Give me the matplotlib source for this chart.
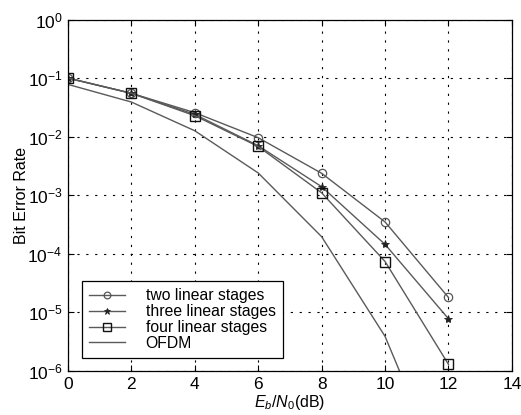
import matplotlib
matplotlib.use("Agg")
import matplotlib.pyplot as plt
import numpy as np
from matplotlib.ticker import FixedLocator, NullLocator

plt.rcParams['font.family'] = ['Liberation Sans', 'DejaVu Sans']
plt.rcParams['mathtext.fontset'] = 'custom'
plt.rcParams['mathtext.rm'] = 'Liberation Sans'
plt.rcParams['mathtext.it'] = 'Liberation Sans:italic'

ebn0 = [0, 2, 4, 6, 8, 10, 12]
ber_two = [0.10, 0.055, 0.0257, 0.0096, 0.00237, 3.5e-4, 1.8e-5]
ber_three = [0.10, 0.055, 0.024, 0.0070, 0.0014, 1.45e-4, 7.8e-6]
ber_four = [0.10, 0.055, 0.0228, 0.0068, 0.0011, 7.4e-5, 1.3e-6]
ber_ofdm = [0.078, 0.039, 0.0126, 0.0024, 1.96e-4, 3.9e-6, 1.0e-8]

labels = ['two linear stages', 'three linear stages', 'four linear stages', 'OFDM']
x_ticks = [0, 2, 4, 6, 8, 10, 12, 14]
y_ticks = [1e-6, 1e-5, 1e-4, 1e-3, 1e-2, 1e-1, 1e0]

fig = plt.figure(figsize=(5.21, 4.15), dpi=100)
ax = fig.add_axes([0.1305, 0.106, 0.852, 0.847])

lc = '#5a5a5a'
ax.plot(ebn0, ber_two, color=lc, lw=1.0, marker='o', ms=6, mfc='none', mec='#555555', mew=0.9, label=labels[0])
ax.plot(ebn0, ber_three, color=lc, lw=1.0, marker='*', ms=6, mfc='#222222', mec='#222222', mew=0.6, label=labels[1])
ax.plot(ebn0, ber_four, color=lc, lw=1.0, marker='s', ms=7, mfc='none', mec='#111111', mew=1.0, label=labels[2])
ax.plot(ebn0, ber_ofdm, color=lc, lw=1.0, label=labels[3])

ax.set_yscale('log')
ax.set_xlim(0, 14)
ax.set_ylim(1e-6, 1)
ax.xaxis.set_major_locator(FixedLocator(x_ticks))
ax.yaxis.set_major_locator(FixedLocator(y_ticks))
ax.yaxis.set_minor_locator(NullLocator())

ax.grid(True, which='major', color='black', linestyle=(0, (2, 6)), lw=0.8)
ax.tick_params(direction='in', length=4, labelsize=12.5, top=True, right=True, pad=4)
for s in ax.spines.values():
    s.set_linewidth(0.9)

ax.set_xlabel('$E_b/N_0$(dB)', fontsize=11.5, labelpad=1)
ax.set_ylabel('Bit Error Rate', fontsize=11.5, labelpad=-1)

leg = ax.legend(loc='lower left', bbox_to_anchor=(0.014, 0.015), fontsize=11.3,
                frameon=True, fancybox=False, edgecolor='black', framealpha=1,
                handlelength=2.3, borderpad=0.45, labelspacing=0.05, handletextpad=1.3,
                markerscale=0.8)
leg.get_frame().set_linewidth(0.9)

fig.savefig('out.png', dpi=100)
